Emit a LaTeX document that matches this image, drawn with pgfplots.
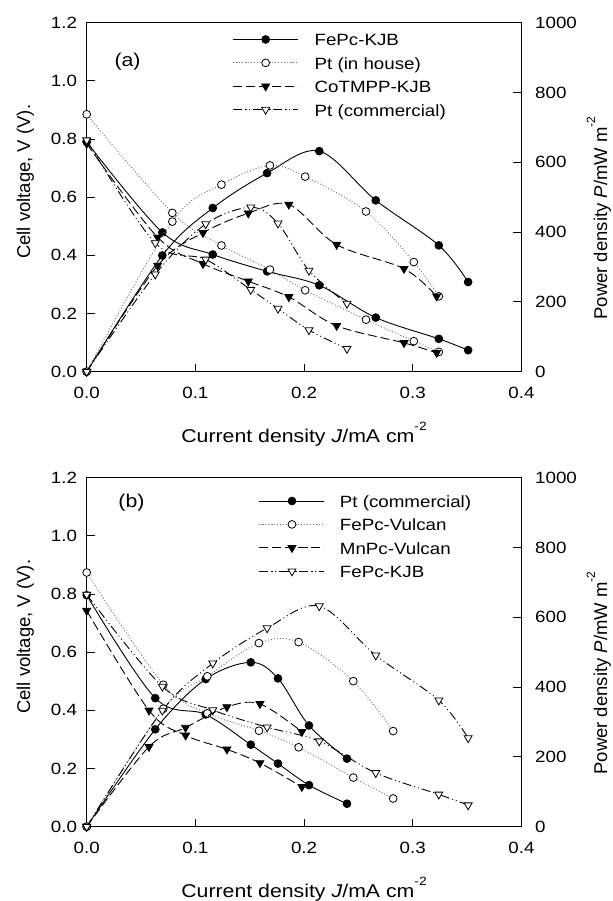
\documentclass[border=0pt]{standalone}
\usepackage{fontspec}
\setmainfont{Liberation Sans}[FakeStretch=1.15]
\newfontfamily\plainsans{Liberation Sans}
\usepackage{pgfplots}
\pgfplotsset{compat=1.18}
\usepackage{pgfplotstable}

\newcommand\ticksize{\fontsize{16.3bp}{19bp}\selectfont}
\newcommand\legsize{\fontsize{16.3bp}{19bp}\selectfont}
\newcommand\labsize{\fontsize{18.5bp}{21bp}\selectfont}
\newcommand\vlabsize{\plainsans\fontsize{18.5bp}{21bp}\selectfont}
\newcommand\sups[1]{\raisebox{12bp}{\fontsize{12bp}{12bp}\selectfont #1}}

% Panel (a)
\pgfplotstableread{
J V P
0      0.790 0
0.0696 0.479 333
0.116  0.403 469
0.166  0.345 569
0.214  0.297 632
0.266  0.186 491
0.324  0.113 362
0.351  0.074 257
}\fepckjb
\pgfplotstableread{
J V P
0      0.885 0
0.0788 0.546 430
0.124  0.434 536
0.1686 0.351 591
0.201  0.280 559
0.257  0.179 459
0.301  0.105 314
0.324  0.068 216
}\ptinhouse
\pgfplotstableread{
J V P
0      0.784 0
0.0653 0.462 304
0.107  0.371 398
0.1487 0.311 454
0.186  0.257 479
0.230  0.158 364
0.292  0.099 295
0.322  0.065 216
}\cotmpp
\pgfplotstableread{
J V P
0      0.796 0
0.0631 0.442 279
0.1095 0.386 423
0.151  0.282 471
0.176  0.217 425
0.2045 0.143 290
0.2395 0.079 195
}\ptcomm
% Panel (b)
\pgfplotstableread{
J V P
0      0.874 0
0.0705 0.488 338
0.111  0.390 431
0.1585 0.330 526
0.195  0.273 529
0.2453 0.169 417
0.282  0.097 274
}\fepcvulcan
\pgfplotstableread{
J V P
0      0.743 0
0.0573 0.400 229
0.091  0.314 284
0.129  0.266 343
0.1594 0.219 352
0.198  0.137 272
}\mnpcvulcan
\pgfplotstableread{
J V P
0      0.798 0
0.0696 0.482 333
0.116  0.401 468
0.166  0.342 569
0.214  0.294 632
0.266  0.185 491
0.324  0.111 362
0.351  0.074 254
}\fepckjbb

\pgfplotsset{
  sA/.style={black, solid, line width=0.9bp, smooth, tension=0.55, mark=*, mark size=3.9bp,
    mark options={solid, draw=black, fill=black, line width=0.8bp}},
  sB/.style={black!55, line width=0.9bp, dash pattern=on 1bp off 2bp, smooth, tension=0.55, mark=*, mark size=3.9bp,
    mark options={solid, draw=black, fill=white, line width=0.8bp}},
  sC/.style={black, line width=0.9bp, dash pattern=on 9bp off 4bp, smooth, tension=0.55, mark=triangle*, mark size=4.6bp,
    mark options={solid, draw=black, fill=black, rotate=180, line width=0.8bp}},
  sD/.style={black, line width=0.9bp, dash pattern=on 9bp off 3bp on 1bp off 3bp on 1bp off 3bp, smooth, tension=0.55, mark=triangle*, mark size=4.6bp,
    mark options={solid, draw=black, fill=white, rotate=180, line width=0.8bp}},
  panel/.style={
    scale only axis, width=434.7bp, height=349bp,
    xmin=0, xmax=0.4, clip=false,
    tick align=inside, major tick length=8bp,
    axis line style={line width=1.1bp},
    every tick/.style={black, line width=1bp},
    tick label style={font=\ticksize},
    /pgf/number format/assume math mode=true,
    /pgf/number format/set thousands separator={},
  },
  panelL/.style={panel,
    ymin=0, ymax=1.2,
    ytick={0,0.2,0.4,0.6,0.8,1.0,1.2},
    xtick={0,0.1,0.2,0.3,0.4},
    xtick pos=bottom, ytick pos=left,
    yticklabel style={/pgf/number format/fixed, /pgf/number format/fixed zerofill, /pgf/number format/precision=1,
      anchor=east, inner sep=0pt, xshift=-9.5bp},
    xticklabel style={/pgf/number format/fixed, /pgf/number format/fixed zerofill, /pgf/number format/precision=1,
      anchor=north, inner sep=0pt, yshift=-15bp},
    ylabel={Cell voltage, V (V).},
    xlabel={Current density \textit{J}/mA cm\sups{-2}},
    xlabel style={font=\labsize, at={(axis description cs:0.5,-0.204)}, anchor=base},
    ylabel style={font=\vlabsize, at={(axis description cs:-0.130,0.544)}, anchor=base},
    legend cell align=left,
    legend image code/.code={\draw[mark repeat=2,mark phase=2,##1] plot coordinates {(0bp,0bp) (32.5bp,0bp) (65bp,0bp)};},
  },
  panelR/.style={panel,
    ymin=0, ymax=1000,
    ytick={0,200,400,600,800,1000},
    axis x line=none, axis y line*=right,
    yticklabel style={anchor=west, inner sep=0pt, xshift=13.6bp},
    ylabel={Power density \textit{P}/mW m\sups{-2}},
    ylabel style={font=\vlabsize, at={(axis description cs:1.197,0.44)}, anchor=base},
  },
}

\begin{document}
\begin{tikzpicture}
\path[use as bounding box] (0bp,0bp) rectangle (613bp,901bp);

%================ panel (a)
\begin{axis}[panelL, at={(86.7bp,529.3bp)}, anchor=south west,
  legend style={draw=none, fill=none, at={(axis description cs:0.3359,0.9855)}, anchor=north west,
    inner sep=0pt, outer sep=0pt, row sep=0pt, column sep=16bp, font=\legsize,
    nodes={inner sep=0pt, text height=18.2bp, text depth=5.2bp}},
]
\addplot[sA] table[x=J,y=V]{\fepckjb}; \addlegendentry{FePc-KJB}
\addplot[sB] table[x=J,y=V]{\ptinhouse}; \addlegendentry{Pt (in house)}
\addplot[sC] table[x=J,y=V]{\cotmpp}; \addlegendentry{CoTMPP-KJB}
\addplot[sD] table[x=J,y=V]{\ptcomm}; \addlegendentry{Pt (commercial)}
\node[font=\labsize] at (axis description cs:0.094,0.889) {(a)};
\end{axis}
\begin{axis}[panelR, at={(86.7bp,529.3bp)}, anchor=south west]
\addplot[sA] table[x=J,y=P]{\fepckjb};
\addplot[sB] table[x=J,y=P]{\ptinhouse};
\addplot[sC] table[x=J,y=P]{\cotmpp};
\addplot[sD] table[x=J,y=P]{\ptcomm};
\end{axis}

%================ panel (b)
\begin{axis}[panelL, at={(86.7bp,74.3bp)}, anchor=south west,
  legend style={draw=none, fill=none, at={(axis description cs:0.3964,0.9667)}, anchor=north west,
    inner sep=0pt, outer sep=0pt, row sep=0pt, column sep=15bp, font=\legsize,
    nodes={inner sep=0pt, text height=18.2bp, text depth=5.2bp}},
]
\addplot[sA] table[x=J,y=V]{\ptcomm}; \addlegendentry{Pt (commercial)}
\addplot[sB] table[x=J,y=V]{\fepcvulcan}; \addlegendentry{FePc-Vulcan}
\addplot[sC] table[x=J,y=V]{\mnpcvulcan}; \addlegendentry{MnPc-Vulcan}
\addplot[sD] table[x=J,y=V]{\fepckjbb}; \addlegendentry{FePc-KJB}
\node[font=\labsize] at (axis description cs:0.103,0.928) {(b)};
\end{axis}
\begin{axis}[panelR, at={(86.7bp,74.3bp)}, anchor=south west]
\addplot[sA] table[x=J,y=P]{\ptcomm};
\addplot[sB] table[x=J,y=P]{\fepcvulcan};
\addplot[sC] table[x=J,y=P]{\mnpcvulcan};
\addplot[sD] table[x=J,y=P]{\fepckjbb};
\end{axis}
\end{tikzpicture}
\end{document}
